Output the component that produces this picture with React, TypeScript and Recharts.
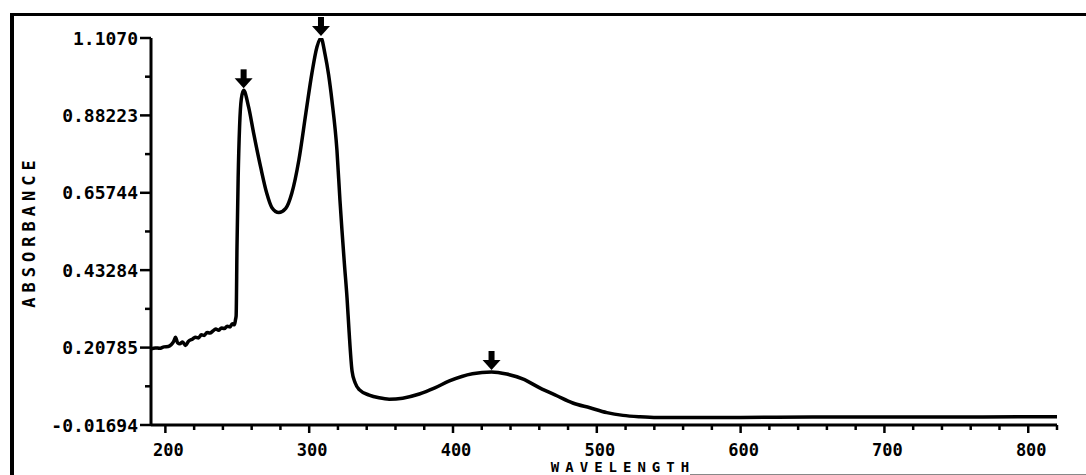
import { Line, LineChart, XAxis, YAxis, ReferenceDot, Label } from "recharts";

const wavelength = [
  190, 193, 196, 199, 202, 204, 206, 207, 208.5, 210, 212, 214, 216, 219, 221, 223, 225, 227, 229, 231,
  233, 235, 237, 239, 241, 243, 245, 246.5, 248, 248.8, 249.2, 249.8, 250.6, 251.6, 252.8, 254.4, 257.9,
  261.4, 266.3, 270.5, 274, 278.9, 283.7, 287.9, 292.8, 297.7, 301.9, 305.4, 308.2, 311, 313.5, 315.8,
  319.3, 321.4, 322.8, 324.5, 326.3, 327.7, 329.8, 332, 335, 341.7, 348.6, 355.6, 365, 376.6, 387, 397.5,
  413.5, 426.8, 437.3, 448.4, 460.3, 472.2, 483.3, 495.2, 507, 518.2, 530, 542, 570, 600, 650, 700, 750,
  800, 820,
];
const absorbance = [
  0.204, 0.207, 0.206, 0.21, 0.211, 0.216, 0.228, 0.238, 0.222, 0.219, 0.224, 0.214, 0.226, 0.233, 0.238,
  0.236, 0.245, 0.243, 0.252, 0.25, 0.256, 0.262, 0.258, 0.265, 0.263, 0.27, 0.268, 0.277, 0.274, 0.29,
  0.3, 0.5, 0.7, 0.85, 0.93, 0.955, 0.906, 0.83, 0.731, 0.656, 0.615, 0.6, 0.612, 0.656, 0.752, 0.889,
  1.005, 1.081, 1.107, 1.06, 1.0, 0.926, 0.781, 0.635, 0.548, 0.45, 0.353, 0.257, 0.14, 0.105, 0.085,
  0.07, 0.062, 0.058, 0.061, 0.073, 0.09, 0.111, 0.132, 0.137, 0.131, 0.117, 0.091, 0.068, 0.047, 0.033,
  0.019, 0.011, 0.007, 0.005, 0.005, 0.005, 0.006, 0.006, 0.006, 0.007, 0.007,
];

// peaks marked with arrows
const peakWavelengths = [254.4, 308.2, 426.8];
const peakValues = [0.955, 1.107, 0.137];

const yMajorTicks = [-0.01694, 0.20785, 0.43284, 0.65744, 0.88223, 1.107];
const yTickLabels = ["-0.01694", "0.20785", "0.43284", "0.65744", "0.88223", "1.1070"];
const xTicks = [
  200, 220, 240, 260, 280, 300, 320, 340, 360, 380, 400, 420, 440, 460, 480, 500, 520, 540, 560, 580, 600,
  620, 640, 660, 680, 700, 720, 740, 760, 780, 800, 820,
];
const xLabelled = [200, 300, 400, 500, 600, 700, 800];

const data = wavelength.map((w, i) => ({ w, a: absorbance[i] }));

// majors plus one minor tick halfway between each pair
const yTicks: number[] = [];
yMajorTicks.forEach((t, i) => {
  yTicks.push(t);
  if (i < yMajorTicks.length - 1) yTicks.push((t + yMajorTicks[i + 1]) / 2);
});

const FONT = "'DejaVu Sans Mono', monospace";

function YTick(props: any) {
  const { x, y, payload } = props;
  const idx = yMajorTicks.indexOf(payload.value);
  const major = idx >= 0;
  return (
    <g>
      <line x1={x - (major ? 11 : 6)} x2={x} y1={y} y2={y} stroke="#000" strokeWidth={2.5} />
      {major && (
        <text x={x - 13} y={y + 6.5} textAnchor="end" fontFamily={FONT} fontWeight="bold" fontSize={18} fill="#000">
          {yTickLabels[idx]}
        </text>
      )}
    </g>
  );
}

function XTick(props: any) {
  const { x, y, payload } = props;
  const major = xLabelled.includes(payload.value);
  return (
    <g>
      <line x1={x} x2={x} y1={y} y2={y + (major ? 8 : 5)} stroke="#000" strokeWidth={2.5} />
      {major && (
        <text x={x + 3} y={y + 31} textAnchor="middle" fontFamily={FONT} fontWeight="bold" fontSize={17} fill="#000">
          {payload.value}
        </text>
      )}
    </g>
  );
}

function Arrow(props: any) {
  const { cx, cy } = props;
  return (
    <g fill="#000">
      <rect x={cx - 3} y={cy - 21} width={6} height={10} />
      <path d={`M${cx - 9},${cy - 12} L${cx + 9},${cy - 12} L${cx},${cy - 2} Z`} />
    </g>
  );
}

function YTitle(props: any) {
  const vb = props.viewBox;
  const x = vb.x + 23;
  const y = vb.y + vb.height / 2;
  return (
    <text
      x={x}
      y={y}
      transform={`rotate(-90, ${x}, ${y})`}
      textAnchor="middle"
      fontFamily={FONT}
      fontWeight="bold"
      fontSize={17}
      letterSpacing={5}
      fill="#000"
    >
      ABSORBANCE
    </text>
  );
}

function XTitle(props: any) {
  const vb = props.viewBox;
  const x = vb.x + vb.width / 2 + 19;
  const y = vb.y + 47;
  return (
    <text x={x} y={y} textAnchor="middle" fontFamily={FONT} fontWeight="bold" fontSize={14} letterSpacing={6} fill="#000">
      WAVELENGTH
    </text>
  );
}

export default function App() {
  return (
    <div style={{ position: "absolute", left: 0, top: 0, width: 1086, height: 475, background: "#fff" }}>
      <div style={{ position: "absolute", left: 10, top: 13, width: 1076, height: 462, borderLeft: "4px solid #000", borderTop: "3px solid #000" }} />
      <div style={{ position: "absolute", left: 690, top: 474, width: 396, borderTop: "1px solid #888" }} />
      <LineChart
        width={1086}
        height={475}
        data={data}
        margin={{ top: 38, right: 29, bottom: 20, left: 12 }}
        style={{ position: "absolute", left: 0, top: 0 }}
      >
        <XAxis
          dataKey="w"
          type="number"
          domain={[190, 820]}
          ticks={xTicks}
          interval={0}
          height={30}
          tickSize={0}
          tickMargin={0}
          tick={<XTick />}
          axisLine={{ stroke: "#000", strokeWidth: 3 }}
          allowDataOverflow
        >
          <Label content={<XTitle />} />
        </XAxis>
        <YAxis
          type="number"
          domain={[-0.01694, 1.107]}
          ticks={yTicks}
          interval={0}
          width={139}
          tickSize={0}
          tickMargin={0}
          tick={<YTick />}
          axisLine={{ stroke: "#000", strokeWidth: 3 }}
          allowDataOverflow
        >
          <Label content={<YTitle />} />
        </YAxis>
        <Line
          type="monotone"
          dataKey="a"
          stroke="#000"
          strokeWidth={3.5}
          dot={false}
          isAnimationActive={false}
        />
        {peakWavelengths.map((w, i) => (
          <ReferenceDot key={w} x={w} y={peakValues[i]} ifOverflow="visible" shape={<Arrow />} />
        ))}
      </LineChart>
    </div>
  );
}
